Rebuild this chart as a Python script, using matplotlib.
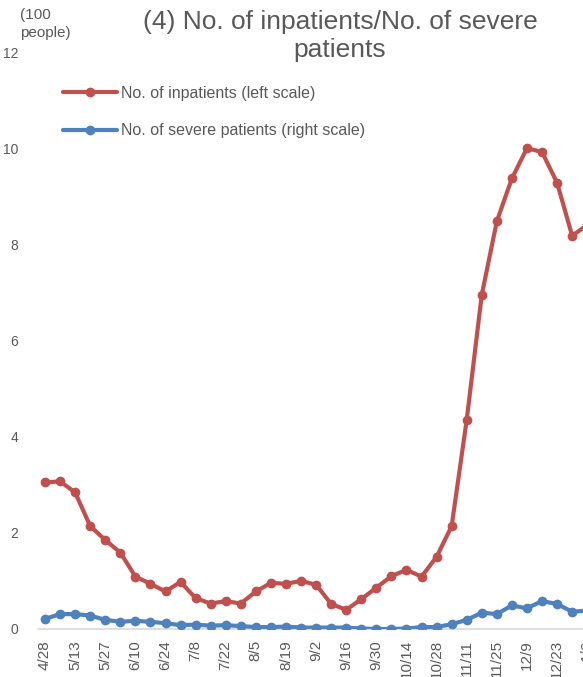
import matplotlib
matplotlib.use('Agg')
import matplotlib.pyplot as plt

plt.rcParams['font.family'] = ['Liberation Sans', 'DejaVu Sans']

# ---- data ----
tick_labels = ['4/28', '5/13', '5/27', '6/10', '6/24', '7/8', '7/22', '8/5', '8/19', '9/2',
               '9/16', '9/30', '10/14', '10/28', '11/11', '11/25', '12/9', '12/23', '1/6']
inpatients = [3.05, 3.07, 2.84, 2.14, 1.85, 1.59, 1.09, 0.94, 0.78, 0.98, 0.64, 0.53, 0.58,
              0.53, 0.78, 0.96, 0.94, 1.00, 0.92, 0.52, 0.40, 0.62, 0.86, 1.10, 1.23, 1.09,
              1.50, 2.14, 4.35, 6.95, 8.48, 9.37, 10.00, 9.92, 9.28, 8.18, 8.40]
severe = [0.21, 0.31, 0.31, 0.28, 0.19, 0.15, 0.17, 0.15, 0.12, 0.08, 0.09, 0.07, 0.08,
          0.06, 0.04, 0.04, 0.05, 0.03, 0.03, 0.03, 0.03, 0.01, 0.00, 0.00, 0.01, 0.04,
          0.04, 0.10, 0.19, 0.34, 0.31, 0.49, 0.43, 0.58, 0.52, 0.36, 0.38]
left_ticks = [0, 2, 4, 6, 8, 10, 12]

RED = '#C0504D'
BLUE = '#4F81BD'
GRAY = '#595959'

W, H = 583, 677
fig = plt.figure(figsize=(W / 100, H / 100), dpi=100)
x0 = 37.5
step = 15.06
n_slots = 39
ax = fig.add_axes([x0 / W, 48 / H, n_slots * step / W, (629 - 52) / H])

xs = list(range(len(inpatients)))
l1, = ax.plot(xs, inpatients, color=RED, lw=3, marker='o', ms=6,
              solid_capstyle='round', solid_joinstyle='round',
              label='No. of inpatients (left scale)')
ax.set_xlim(-0.5, n_slots - 0.5)
ax.set_ylim(0, 12)
ax.set_yticks(left_ticks)
ax.set_yticklabels([str(t) for t in left_ticks])
ax.set_xticks(list(range(0, 2 * len(tick_labels), 2)))
ax.set_xticklabels(tick_labels, rotation=90)
ax.tick_params(axis='both', length=0, colors=GRAY)
ax.tick_params(axis='y', pad=14, labelsize=10)
ax.tick_params(axis='x', pad=8, labelsize=11)
for s in ['top', 'right', 'left']:
    ax.spines[s].set_visible(False)
ax.spines['bottom'].set_color('#D9D9D9')
ax.spines['bottom'].set_linewidth(1.2)

ax2 = ax.twinx()
l2, = ax2.plot(xs, severe, color=BLUE, lw=3, marker='o', ms=6,
               solid_capstyle='round', solid_joinstyle='round',
               label='No. of severe patients (right scale)')
ax2.set_ylim(0, 12)
ax2.set_yticks([])
for s in ax2.spines.values():
    s.set_visible(False)

fig.text(340 / W, 1 - 10 / H, '(4) No. of inpatients/No. of severe\npatients',
         ha='center', va='top', fontsize=19, color=GRAY, linespacing=1.22)
fig.text(20 / W, 1 - 8 / H, '(100\npeople)', ha='left', va='top', fontsize=11,
         color=GRAY, linespacing=1.35)

ax.legend([l1, l2], [l1.get_label(), l2.get_label()], loc='upper left',
          bbox_to_anchor=(63 / W, 1 - 86 / H), bbox_transform=fig.transFigure,
          frameon=False, handlelength=3.4, handletextpad=0.25, labelspacing=1.4,
          fontsize=11.5, labelcolor=GRAY, borderaxespad=0, borderpad=0)

fig.savefig('out.png', dpi=100)
